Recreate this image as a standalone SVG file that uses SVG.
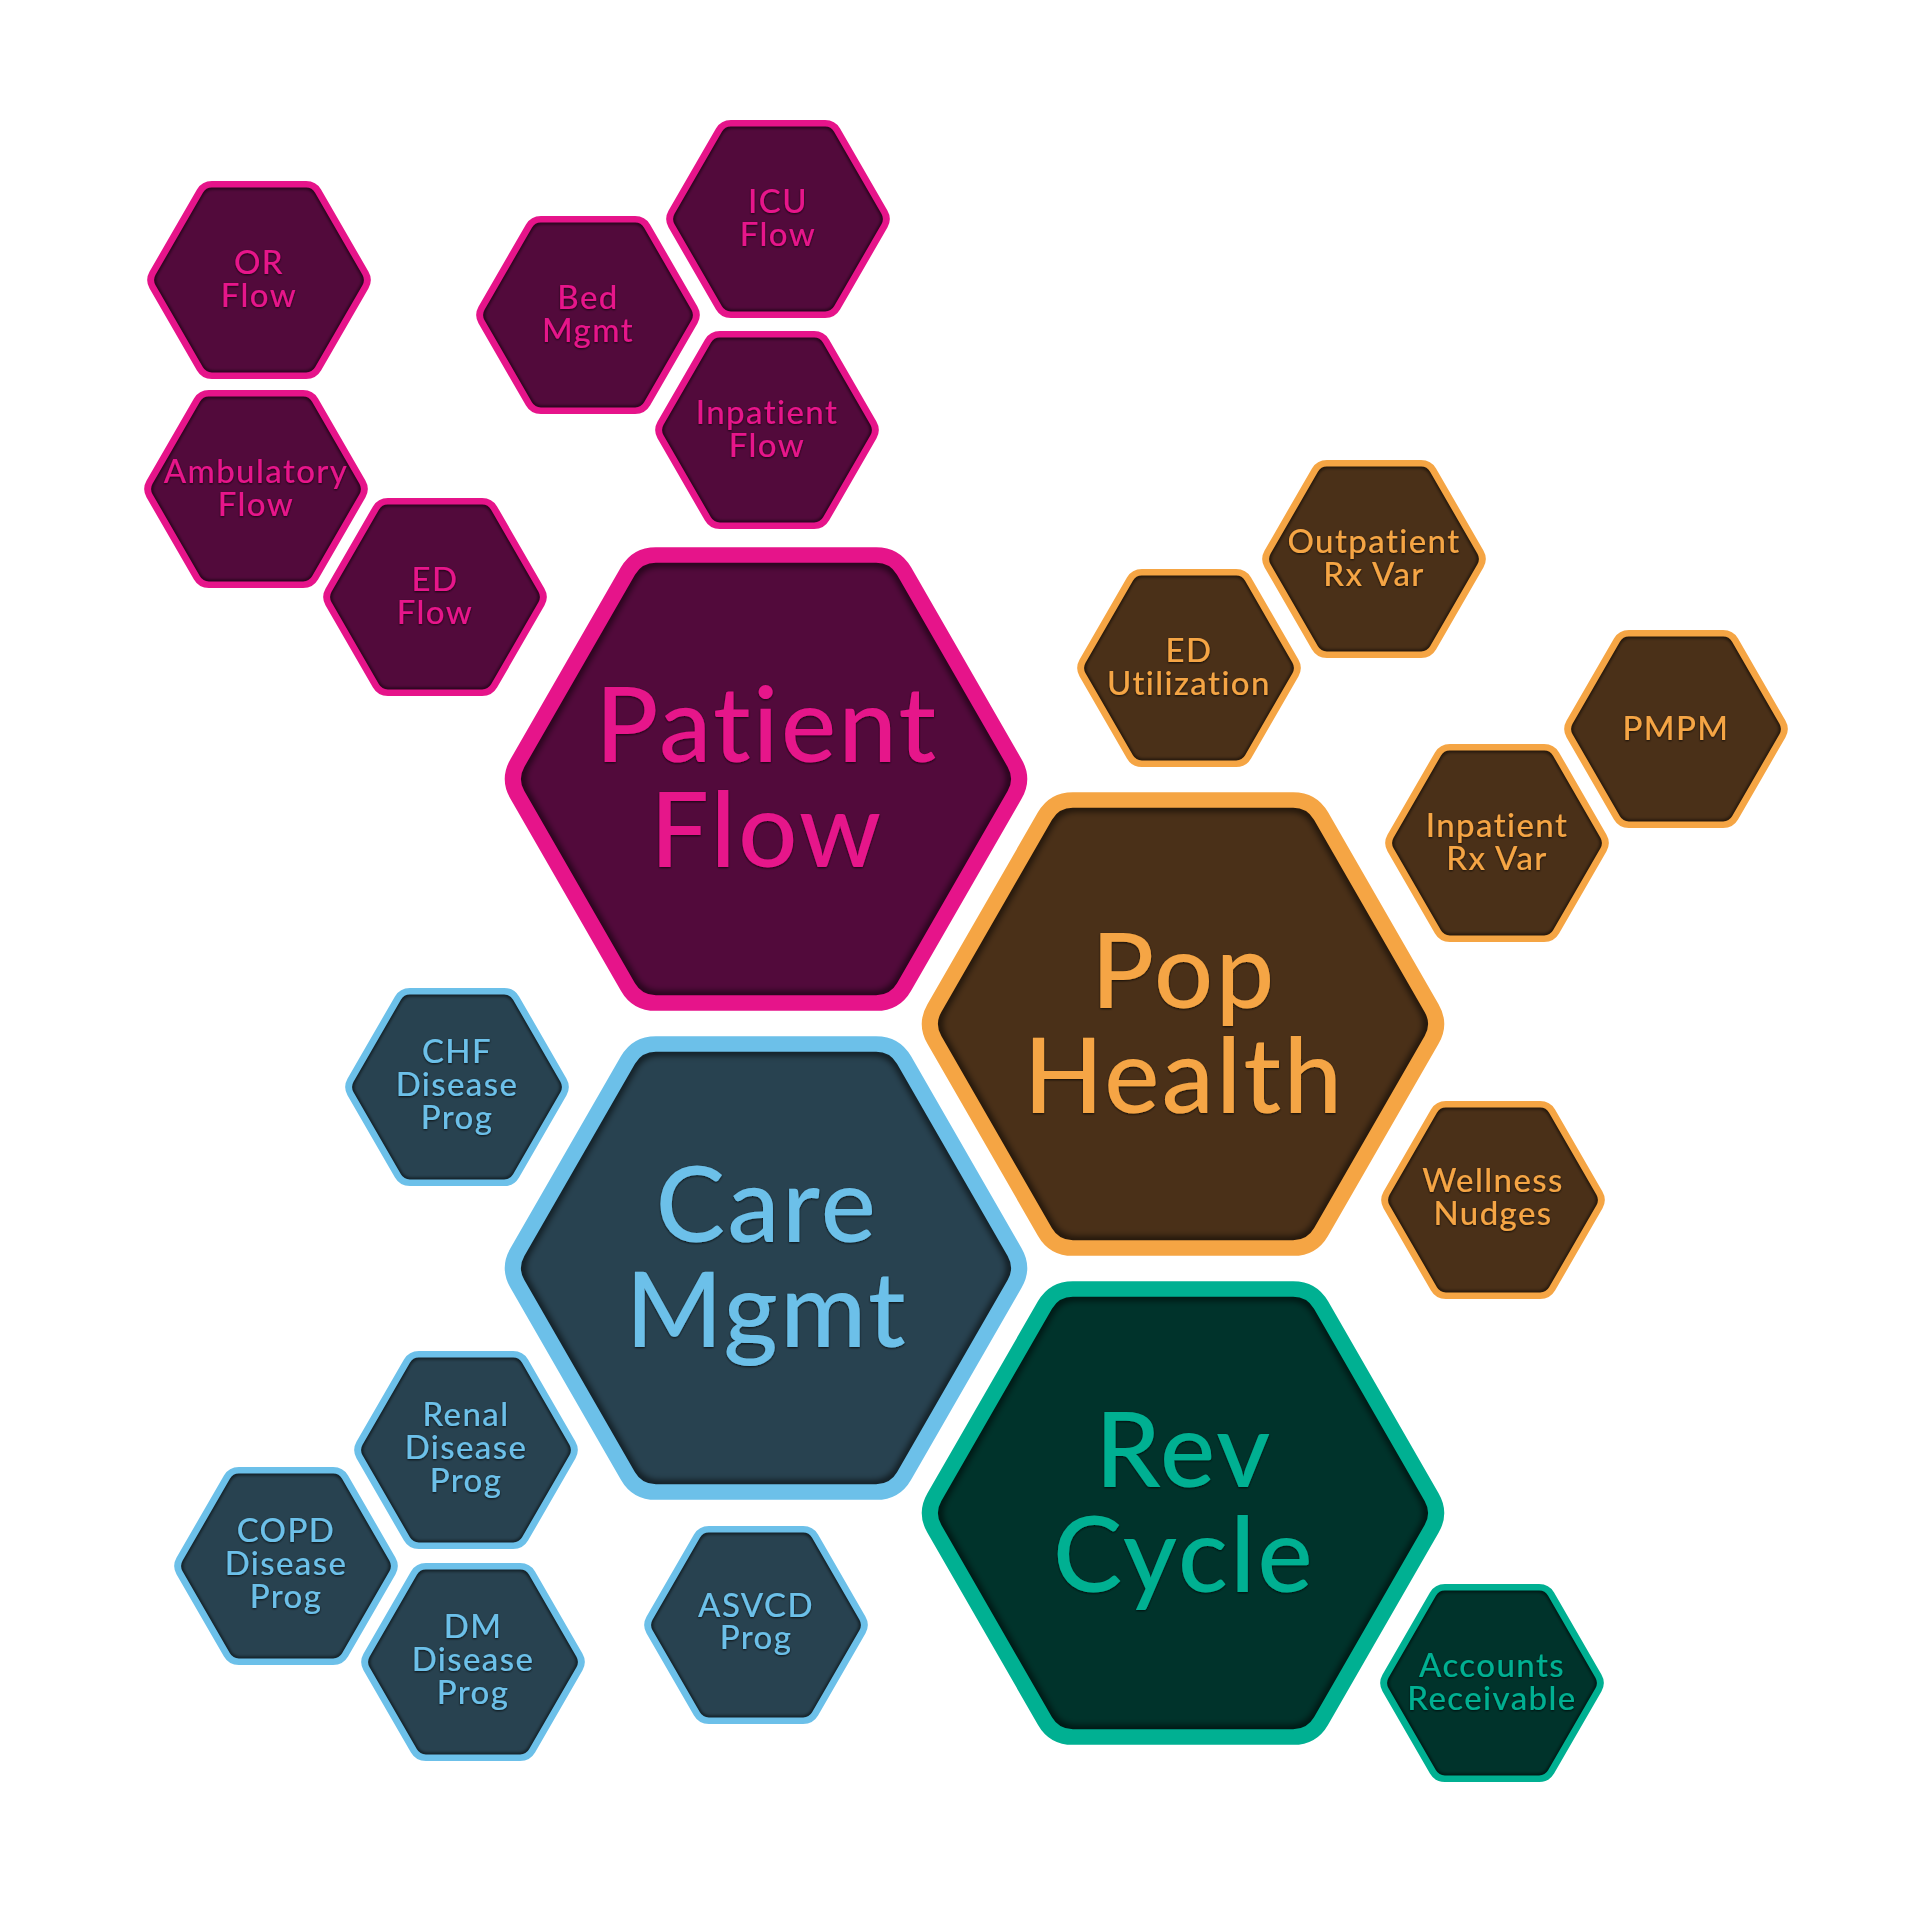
<svg xmlns="http://www.w3.org/2000/svg" xmlns:xlink="http://www.w3.org/1999/xlink" width="1920" height="1921" viewBox="0 0 1920 1921">
<defs>
<style>
text{font-family:Lato,"Noto Sans","Liberation Sans",sans-serif;text-anchor:middle;font-weight:500;filter:url(#tsh)}
.big{font-size:104px;letter-spacing:2.5px}
.sm{font-size:33px;letter-spacing:1.4px}
.f{stroke:none}
.sh{fill:none;stroke:#000;stroke-opacity:.6;stroke-width:3;filter:url(#ish)}
.b{fill:none;stroke-width:6;stroke-linejoin:round}
.pink .f{fill:#520a3b}.pink .b{stroke:#e6148a}.pink text{fill:#e6148a}
.orange .f{fill:#4a3018}.orange .b{stroke:#f5a544}.orange text{fill:#f5a544}
.blue .f{fill:#284250}.blue .b{stroke:#6cc0e9}.blue text{fill:#6cc0e9}
.teal .f{fill:#00332b}.teal .b{stroke:#00b092}.teal text{fill:#00b092}
</style>
<path id="hx" d="M -93.11,-6.09 L -51.68,-79.41 Q -48.24,-85.5 -41.24,-85.5 L 41.24,-85.5 Q 48.24,-85.5 51.68,-79.41 L 93.11,-6.09 Q 96.55,0 93.11,6.09 L 51.68,79.41 Q 48.24,85.5 41.24,85.5 L -41.24,85.5 Q -48.24,85.5 -51.68,79.41 L -93.11,6.09 Q -96.55,0 -93.11,-6.09 Z"/>
<filter id="ish" x="-20%" y="-20%" width="140%" height="140%"><feGaussianBlur stdDeviation="1.3"/></filter>
<filter id="tsh" x="-10%" y="-20%" width="120%" height="140%"><feDropShadow dx="0" dy="1" stdDeviation="1.3" flood-color="#000" flood-opacity="0.75"/></filter>
</defs>
<rect width="1920" height="1921" fill="#fff"/>
<g id="connectors"/>

<g id="or-flow" class="pink"><g transform="translate(259,280) scale(1.143,1.12)"><use href="#hx" class="f"/><use href="#hx" class="sh" transform="scale(0.965)"/><use href="#hx" class="b"/></g>
<text class="sm" x="259" y="274">OR</text><text class="sm" x="259" y="307">Flow</text></g>

<g id="bed-mgmt" class="pink"><g transform="translate(588,315) scale(1.143,1.12)"><use href="#hx" class="f"/><use href="#hx" class="sh" transform="scale(0.965)"/><use href="#hx" class="b"/></g>
<text class="sm" x="588" y="309">Bed</text><text class="sm" x="588" y="342">Mgmt</text></g>

<g id="icu-flow" class="pink"><g transform="translate(778,219) scale(1.143,1.12)"><use href="#hx" class="f"/><use href="#hx" class="sh" transform="scale(0.965)"/><use href="#hx" class="b"/></g>
<text class="sm" x="778" y="213">ICU</text><text class="sm" x="778" y="246">Flow</text></g>

<g id="inpatient-flow" class="pink"><g transform="translate(767,430) scale(1.143,1.12)"><use href="#hx" class="f"/><use href="#hx" class="sh" transform="scale(0.965)"/><use href="#hx" class="b"/></g>
<text class="sm" x="767" y="424">Inpatient</text><text class="sm" x="767" y="457">Flow</text></g>

<g id="ambulatory-flow" class="pink"><g transform="translate(256,489) scale(1.143,1.12)"><use href="#hx" class="f"/><use href="#hx" class="sh" transform="scale(0.965)"/><use href="#hx" class="b"/></g>
<text class="sm" x="256" y="483">Ambulatory</text><text class="sm" x="256" y="516">Flow</text></g>

<g id="ed-flow" class="pink"><g transform="translate(435,597) scale(1.143,1.12)"><use href="#hx" class="f"/><use href="#hx" class="sh" transform="scale(0.965)"/><use href="#hx" class="b"/></g>
<text class="sm" x="435" y="591">ED</text><text class="sm" x="435" y="624">Flow</text></g>

<g id="patient-flow" class="pink"><g transform="translate(766,779) scale(2.67,2.62)"><use href="#hx" class="f"/><use href="#hx" class="sh" transform="scale(0.965)"/><use href="#hx" class="b"/></g>
<text class="big" x="767" y="762">Patient</text><text class="big" x="767" y="867">Flow</text></g>

<g id="outpatient-rx-var" class="orange"><g transform="translate(1374,559) scale(1.143,1.12)"><use href="#hx" class="f"/><use href="#hx" class="sh" transform="scale(0.965)"/><use href="#hx" class="b"/></g>
<text class="sm" x="1374" y="553">Outpatient</text><text class="sm" x="1374" y="586">Rx Var</text></g>

<g id="ed-utilization" class="orange"><g transform="translate(1189,668) scale(1.143,1.12)"><use href="#hx" class="f"/><use href="#hx" class="sh" transform="scale(0.965)"/><use href="#hx" class="b"/></g>
<text class="sm" x="1189" y="662">ED</text><text class="sm" x="1189" y="695">Utilization</text></g>

<g id="pmpm" class="orange"><g transform="translate(1676,729) scale(1.143,1.12)"><use href="#hx" class="f"/><use href="#hx" class="sh" transform="scale(0.965)"/><use href="#hx" class="b"/></g>
<text class="sm" x="1676" y="740">PMPM</text></g>

<g id="inpatient-rx-var" class="orange"><g transform="translate(1497,843) scale(1.143,1.12)"><use href="#hx" class="f"/><use href="#hx" class="sh" transform="scale(0.965)"/><use href="#hx" class="b"/></g>
<text class="sm" x="1497" y="837">Inpatient</text><text class="sm" x="1497" y="870">Rx Var</text></g>

<g id="pop-health" class="orange"><g transform="translate(1183,1024) scale(2.67,2.62)"><use href="#hx" class="f"/><use href="#hx" class="sh" transform="scale(0.965)"/><use href="#hx" class="b"/></g>
<text class="big" x="1184" y="1008">Pop</text><text class="big" x="1184" y="1113">Health</text></g>

<g id="wellness-nudges" class="orange"><g transform="translate(1493,1200) scale(1.143,1.12)"><use href="#hx" class="f"/><use href="#hx" class="sh" transform="scale(0.965)"/><use href="#hx" class="b"/></g>
<text class="sm" x="1493" y="1192">Wellness</text><text class="sm" x="1493" y="1225">Nudges</text></g>

<g id="chf-disease-prog" class="blue"><g transform="translate(457,1087) scale(1.143,1.12)"><use href="#hx" class="f"/><use href="#hx" class="sh" transform="scale(0.965)"/><use href="#hx" class="b"/></g>
<text class="sm" x="457" y="1063">CHF</text><text class="sm" x="457" y="1096">Disease</text><text class="sm" x="457" y="1129">Prog</text></g>

<g id="care-mgmt" class="blue"><g transform="translate(766,1268) scale(2.67,2.62)"><use href="#hx" class="f"/><use href="#hx" class="sh" transform="scale(0.965)"/><use href="#hx" class="b"/></g>
<text class="big" x="767" y="1242">Care</text><text class="big" x="767" y="1347">Mgmt</text></g>

<g id="renal-disease-prog" class="blue"><g transform="translate(466,1450) scale(1.143,1.12)"><use href="#hx" class="f"/><use href="#hx" class="sh" transform="scale(0.965)"/><use href="#hx" class="b"/></g>
<text class="sm" x="466" y="1426">Renal</text><text class="sm" x="466" y="1459">Disease</text><text class="sm" x="466" y="1492">Prog</text></g>

<g id="copd-disease-prog" class="blue"><g transform="translate(286,1566) scale(1.143,1.12)"><use href="#hx" class="f"/><use href="#hx" class="sh" transform="scale(0.965)"/><use href="#hx" class="b"/></g>
<text class="sm" x="286" y="1542">COPD</text><text class="sm" x="286" y="1575">Disease</text><text class="sm" x="286" y="1608">Prog</text></g>

<g id="dm-disease-prog" class="blue"><g transform="translate(473,1662) scale(1.143,1.12)"><use href="#hx" class="f"/><use href="#hx" class="sh" transform="scale(0.965)"/><use href="#hx" class="b"/></g>
<text class="sm" x="473" y="1638">DM</text><text class="sm" x="473" y="1671">Disease</text><text class="sm" x="473" y="1704">Prog</text></g>

<g id="asvcd-prog" class="blue"><g transform="translate(756,1625) scale(1.143,1.12)"><use href="#hx" class="f"/><use href="#hx" class="sh" transform="scale(0.965)"/><use href="#hx" class="b"/></g>
<text class="sm" x="756" y="1617">ASVCD</text><text class="sm" x="756" y="1649">Prog</text></g>

<g id="rev-cycle" class="teal"><g transform="translate(1183,1513) scale(2.67,2.62)"><use href="#hx" class="f"/><use href="#hx" class="sh" transform="scale(0.965)"/><use href="#hx" class="b"/></g>
<text class="big" x="1184" y="1487">Rev</text><text class="big" x="1184" y="1592">Cycle</text></g>

<g id="accounts-receivable" class="teal"><g transform="translate(1492,1683) scale(1.143,1.12)"><use href="#hx" class="f"/><use href="#hx" class="sh" transform="scale(0.965)"/><use href="#hx" class="b"/></g>
<text class="sm" x="1492" y="1677">Accounts</text><text class="sm" x="1492" y="1710">Receivable</text></g>
</svg>
